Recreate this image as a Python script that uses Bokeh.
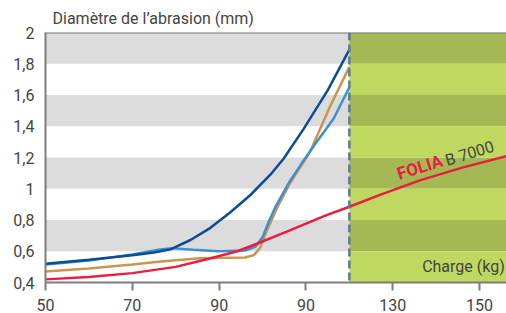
from bokeh.plotting import figure
from bokeh.models import Range1d, FixedTicker, Span
from bokeh.core.properties import value
from bokeh.embed import file_html
from bokeh.resources import INLINE

# ---- data ----
x_tick_pos = [0, 1, 2, 3, 4, 5]
x_tick_labels = ["50", "70", "90", "90", "130", "150"]
y_ticks = [0.4, 0.6, 0.8, 1.0, 1.2, 1.4, 1.6, 1.8, 2.0]
y_tick_labels = ["0,4", "0,6", "0,8", "1", "1,2", "1,4", "1,6", "1,8", "2"]

limit_x = 3.5
band_lo = [0.6, 1.0, 1.4, 1.8]
band_hi = [0.8, 1.2, 1.6, 2.0]
alt_lo = [0.4, 0.8, 1.2, 1.6]
alt_hi = [0.6, 1.0, 1.4, 1.8]

dark_x = [0, 0.5, 1.0, 1.25, 1.44, 1.67, 1.9, 2.13, 2.36, 2.59, 2.74, 2.97, 3.25, 3.5]
dark_y = [0.52, 0.545, 0.575, 0.592, 0.612, 0.672, 0.75, 0.85, 0.96, 1.09, 1.19, 1.38, 1.63, 1.89]

light_x = [0, 0.5, 1.0, 1.3, 1.45, 1.7, 2.0, 2.3, 2.42, 2.5, 2.58, 2.65, 2.8, 2.96, 3.11, 3.32, 3.5]
light_y = [0.515, 0.54, 0.58, 0.61, 0.62, 0.61, 0.60, 0.605, 0.63, 0.69, 0.8, 0.885, 1.035, 1.17, 1.29, 1.45, 1.65]

tan_x = [0, 0.5, 1.0, 1.33, 1.78, 2.3, 2.4, 2.47, 2.54, 2.67, 2.81, 2.96, 3.05, 3.28, 3.5]
tan_y = [0.47, 0.49, 0.515, 0.535, 0.555, 0.56, 0.575, 0.62, 0.72, 0.88, 1.03, 1.16, 1.24, 1.53, 1.78]

red_x = [0, 0.5, 1.0, 1.5, 1.87, 2.21, 2.42, 2.8, 3.23, 3.5, 3.86, 4.32, 4.8, 5.35]
red_y = [0.42, 0.435, 0.46, 0.50, 0.55, 0.60, 0.645, 0.73, 0.83, 0.885, 0.962, 1.055, 1.135, 1.215]

title_text = "Diamètre de l\u2019abrasion (mm)"
x_axis_text = "Charge (kg)"

FONT = "Roboto"
TXT = "#444444"
AXIS = "#7d7d7d"

p = figure(width=506, height=313, output_backend="svg", toolbar_location=None,
           x_range=Range1d(0, 5.31), y_range=Range1d(0.4, 2.0),
           min_border_left=45, min_border_right=0, min_border_bottom=30, min_border_top=32)
p.outline_line_color = None
p.grid.visible = False
p.background_fill_color = "white"
p.border_fill_color = "white"

p.title.text = title_text
p.title.text_font = FONT
p.title.text_font_size = "16px"
p.title.text_font_style = "normal"
p.title.text_color = TXT
p.title.offset = 7

# bands
p.quad(left=0, right=limit_x, bottom=band_lo, top=band_hi, color="#dcdcdc", line_color=None)
p.quad(left=limit_x, right=6, bottom=band_lo, top=band_hi, color="#a4b853", line_color=None)
p.quad(left=limit_x, right=6, bottom=alt_lo, top=alt_hi, color="#bfd860", line_color=None)

# curves
p.line(tan_x, tan_y, line_color="#c9964f", line_width=2.5)
p.line(light_x, light_y, line_color="#3d8fd0", line_width=2.5)
p.line(dark_x, dark_y, line_color="#0b4c96", line_width=2.5)
p.line(red_x, red_y, line_color="#ec1b40", line_width=2.5)

p.add_layout(Span(location=limit_x, dimension="height", line_color="#5c7b93",
                  line_width=2.5, line_dash="8 4"))
p.add_layout(Span(location=2.0, dimension="width", line_color=AXIS, line_width=2))

p.text(x=[4.055], y=[1.095], text=["FOLIA"], angle=0.30, text_font=value(FONT),
       text_font_style="bold", text_font_size="17px", text_color="#ec1b40",
       text_baseline="alphabetic", text_align="left")
p.text(x=[4.61], y=[1.18], text=["B 7000"], angle=0.30, text_font=value(FONT),
       text_font_size="16px", text_color=TXT,
       text_baseline="alphabetic", text_align="left")
p.text(x=[5.29], y=[0.503], text=[x_axis_text], text_font=value(FONT),
       text_font_size="16px", text_color=TXT, text_baseline="middle", text_align="right")

# axes
xa = p.xaxis[0]
xa.ticker = FixedTicker(ticks=x_tick_pos)
xa.major_label_overrides = {t: l for t, l in zip(x_tick_pos, x_tick_labels)}
xa.minor_tick_line_color = None
xa.major_tick_in = 0
xa.major_tick_out = 8
xa.major_tick_line_color = AXIS
xa.major_tick_line_width = 2
xa.axis_line_color = AXIS
xa.axis_line_width = 2
xa.major_label_standoff = 8
xa.major_label_text_font = FONT
xa.major_label_text_font_size = "16px"
xa.major_label_text_color = TXT

ya = p.yaxis[0]
ya.ticker = FixedTicker(ticks=y_ticks)
ya.major_label_overrides = {t: l for t, l in zip(y_ticks, y_tick_labels)}
ya.minor_tick_line_color = None
ya.major_tick_in = 0
ya.major_tick_out = 0
ya.axis_line_color = AXIS
ya.axis_line_width = 2
ya.major_label_standoff = 11
ya.major_label_text_font = FONT
ya.major_label_text_font_size = "16px"
ya.major_label_text_color = TXT

open("out.html", "w").write(file_html(p, INLINE))
